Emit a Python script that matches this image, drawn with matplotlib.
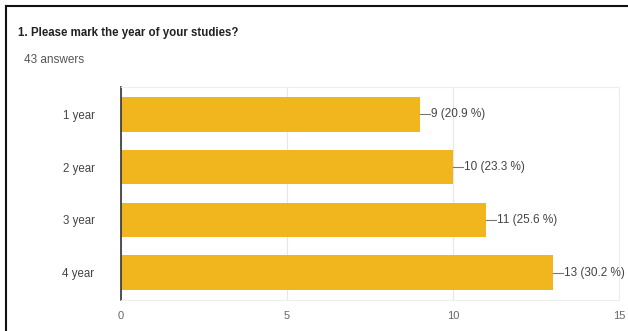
import matplotlib.pyplot as plt
from matplotlib.lines import Line2D

# dane z ankiety
categories = ['1 year', '2 year', '3 year', '4 year']
counts = [9, 10, 11, 13]
percents = [20.9, 23.3, 25.6, 30.2]
total = 43
xticks = [0, 5, 10, 15]

plt.rcParams['font.family'] = ['Liberation Sans', 'DejaVu Sans']

fig = plt.figure(figsize=(6.28, 3.31), dpi=100)
ax = fig.add_axes([121 / 628, 1 - 300 / 331, (619 - 121) / 628, (300 - 87) / 331])

pos = range(len(categories))
ax.barh(pos, counts, height=0.65, color='#f1b51d', zorder=2)
ax.set_ylim(3.52, -0.52)
ax.set_xlim(0, 15)

# etykiety przy slupkach
for i, (c, p) in enumerate(zip(counts, percents)):
    ax.plot([c, c + 0.3], [i, i], color='#777777', lw=0.8, clip_on=False, zorder=3)
    ax.text(c + 0.33, i, f'{c} ({p} %)', va='center', ha='left',
            fontsize=8.5, color='#444444', clip_on=False)

ax.set_yticks(list(pos))
ax.set_yticklabels(categories, fontsize=8.3, color='#444444')
ax.set_xticks(xticks)
ax.set_xticklabels([str(t) for t in xticks], fontsize=8, color='#666666')
ax.tick_params(length=0)
ax.tick_params(axis='y', pad=19)
ax.tick_params(axis='x', pad=8)
ax.grid(axis='x', color='#e6e6e6', lw=0.8, zorder=0)

for s in ['top', 'right', 'bottom']:
    ax.spines[s].set_color('#eeeeee')
    ax.spines[s].set_linewidth(0.8)
ax.spines['left'].set_color('#333333')
ax.spines['left'].set_linewidth(1.2)

fig.text(18 / 628, 1 - 33 / 331, '1. Please mark the year of your studies?',
         fontsize=8.3, fontweight='bold', color='#222222', va='center')
fig.text(24 / 628, 1 - 60 / 331, f'{total} answers', fontsize=8.5,
         color='#555555', va='center')

# ramka zrzutu ekranu
fig.add_artist(Line2D([6 / 628, 6 / 628], [0, 1 - 6 / 331], color='#111111', lw=1.5))
fig.add_artist(Line2D([6 / 628, 1], [1 - 6 / 331, 1 - 6 / 331], color='#111111', lw=1.5))

fig.savefig('out.png', dpi=100)
